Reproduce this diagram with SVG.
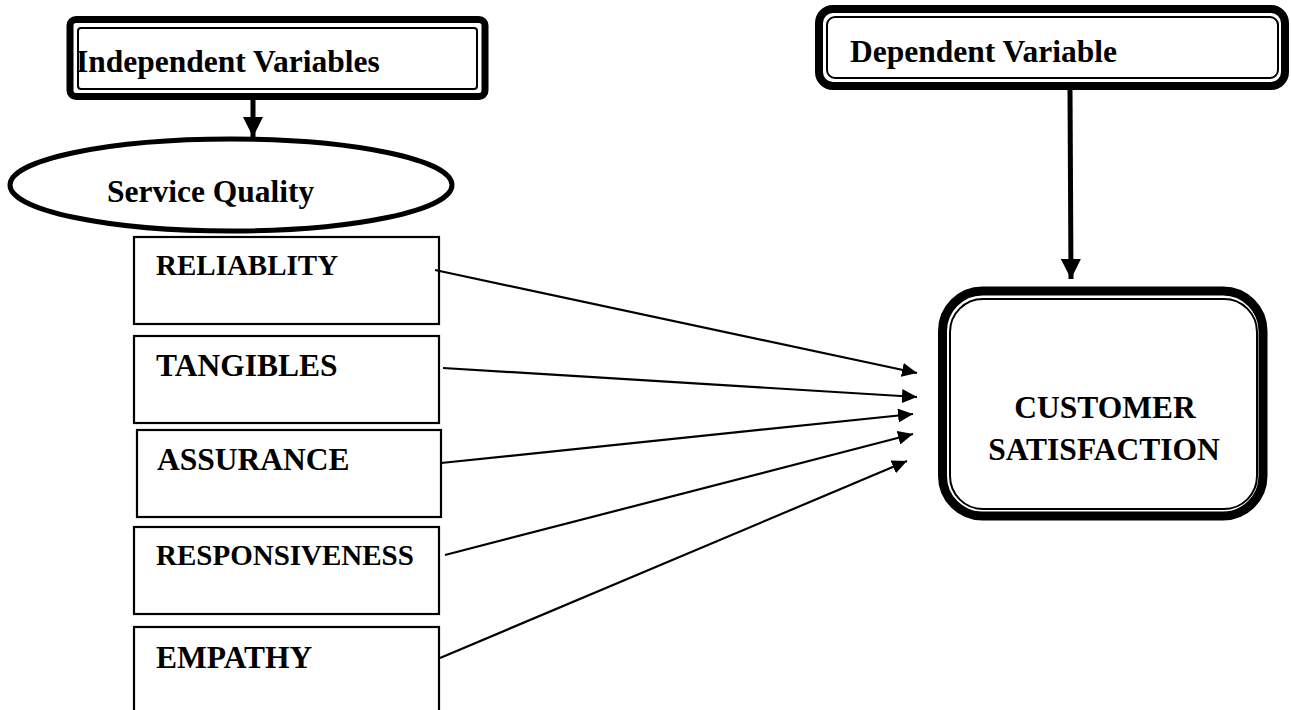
<svg xmlns="http://www.w3.org/2000/svg" width="1291" height="710" viewBox="0 0 1291 710">
<style>
  text { font-family: "Liberation Serif", "Times New Roman", serif; font-weight: bold; fill: #000; }
  .big { font-size: 31.5px; }
  .mid { font-size: 29px; }
  .box { fill: #fff; stroke: #000; stroke-width: 2.2; }
  .outer { fill: #fff; stroke: #000; }
  .inner { fill: none; stroke: #000; stroke-width: 2; }
  .conn { stroke: #000; stroke-width: 2.2; fill: none; }
  .thick { stroke: #000; stroke-width: 5; fill: none; }
</style>
<defs>
  <marker id="ah" markerWidth="15" markerHeight="14" refX="15" refY="7" orient="auto" markerUnits="userSpaceOnUse">
    <path d="M0,0 L15,7 L0,14 Z" fill="#000"/>
  </marker>
  <marker id="ahBig" markerWidth="20" markerHeight="20" refX="20" refY="10" orient="auto" markerUnits="userSpaceOnUse">
    <path d="M0,0 L20,10 L0,20 Z" fill="#000"/>
  </marker>
</defs>
<rect width="1291" height="710" fill="#fff"/>

<g id="independent">
  <rect class="outer" x="70" y="19.5" width="415" height="77" rx="6" stroke-width="7"/>
  <rect class="inner" x="78" y="28" width="399" height="61" rx="3"/>
  <text class="big" x="76" y="72">Independent Variables</text>
</g>

<g id="dependent">
  <rect class="outer" x="819" y="9" width="466" height="77" rx="14" stroke-width="8"/>
  <rect class="inner" x="827" y="17" width="451" height="61" rx="8"/>
  <text class="big" x="850" y="62">Dependent Variable</text>
</g>

<g id="service-quality">
  <ellipse cx="231" cy="185" rx="221" ry="46" fill="#fff" stroke="#000" stroke-width="5"/>
  <text class="big" x="107" y="202">Service Quality</text>
</g>

<g id="reliablity">
  <rect class="box" x="134" y="237" width="305" height="87"/>
  <text class="mid" x="156" y="275">RELIABLITY</text>
</g>
<g id="tangibles">
  <rect class="box" x="134" y="336" width="305" height="87"/>
  <text class="big" x="156" y="376">TANGIBLES</text>
</g>
<g id="assurance">
  <rect class="box" x="137" y="430" width="304" height="87"/>
  <text class="big" x="157" y="470">ASSURANCE</text>
</g>
<g id="responsiveness">
  <rect class="box" x="134" y="527" width="305" height="87"/>
  <text class="mid" x="156" y="565">RESPONSIVENESS</text>
</g>
<g id="empathy">
  <rect class="box" x="134" y="627" width="305" height="95"/>
  <text class="big" x="156" y="668">EMPATHY</text>
</g>

<g id="customer-satisfaction">
  <rect class="outer" x="942.5" y="291" width="320.5" height="225" rx="40" stroke-width="9"/>
  <rect class="inner" x="950" y="299" width="307" height="210" rx="33"/>
  <text class="big" x="1105" y="418" text-anchor="middle">CUSTOMER</text>
  <text class="big" x="1104" y="460" text-anchor="middle">SATISFACTION</text>
</g>

<g id="connectors">
  <line class="thick" x1="253" y1="100" x2="253" y2="137" marker-end="url(#ahBig)"/>
  <line class="thick" x1="1070" y1="90" x2="1071" y2="279" marker-end="url(#ahBig)"/>
  <line class="conn" x1="435" y1="270" x2="917" y2="373" marker-end="url(#ah)"/>
  <line class="conn" x1="443" y1="368" x2="917" y2="397" marker-end="url(#ah)"/>
  <line class="conn" x1="441" y1="463" x2="913" y2="414" marker-end="url(#ah)"/>
  <line class="conn" x1="445" y1="555" x2="913" y2="434" marker-end="url(#ah)"/>
  <line class="conn" x1="440" y1="658" x2="907" y2="461" marker-end="url(#ah)"/>
</g>
</svg>
